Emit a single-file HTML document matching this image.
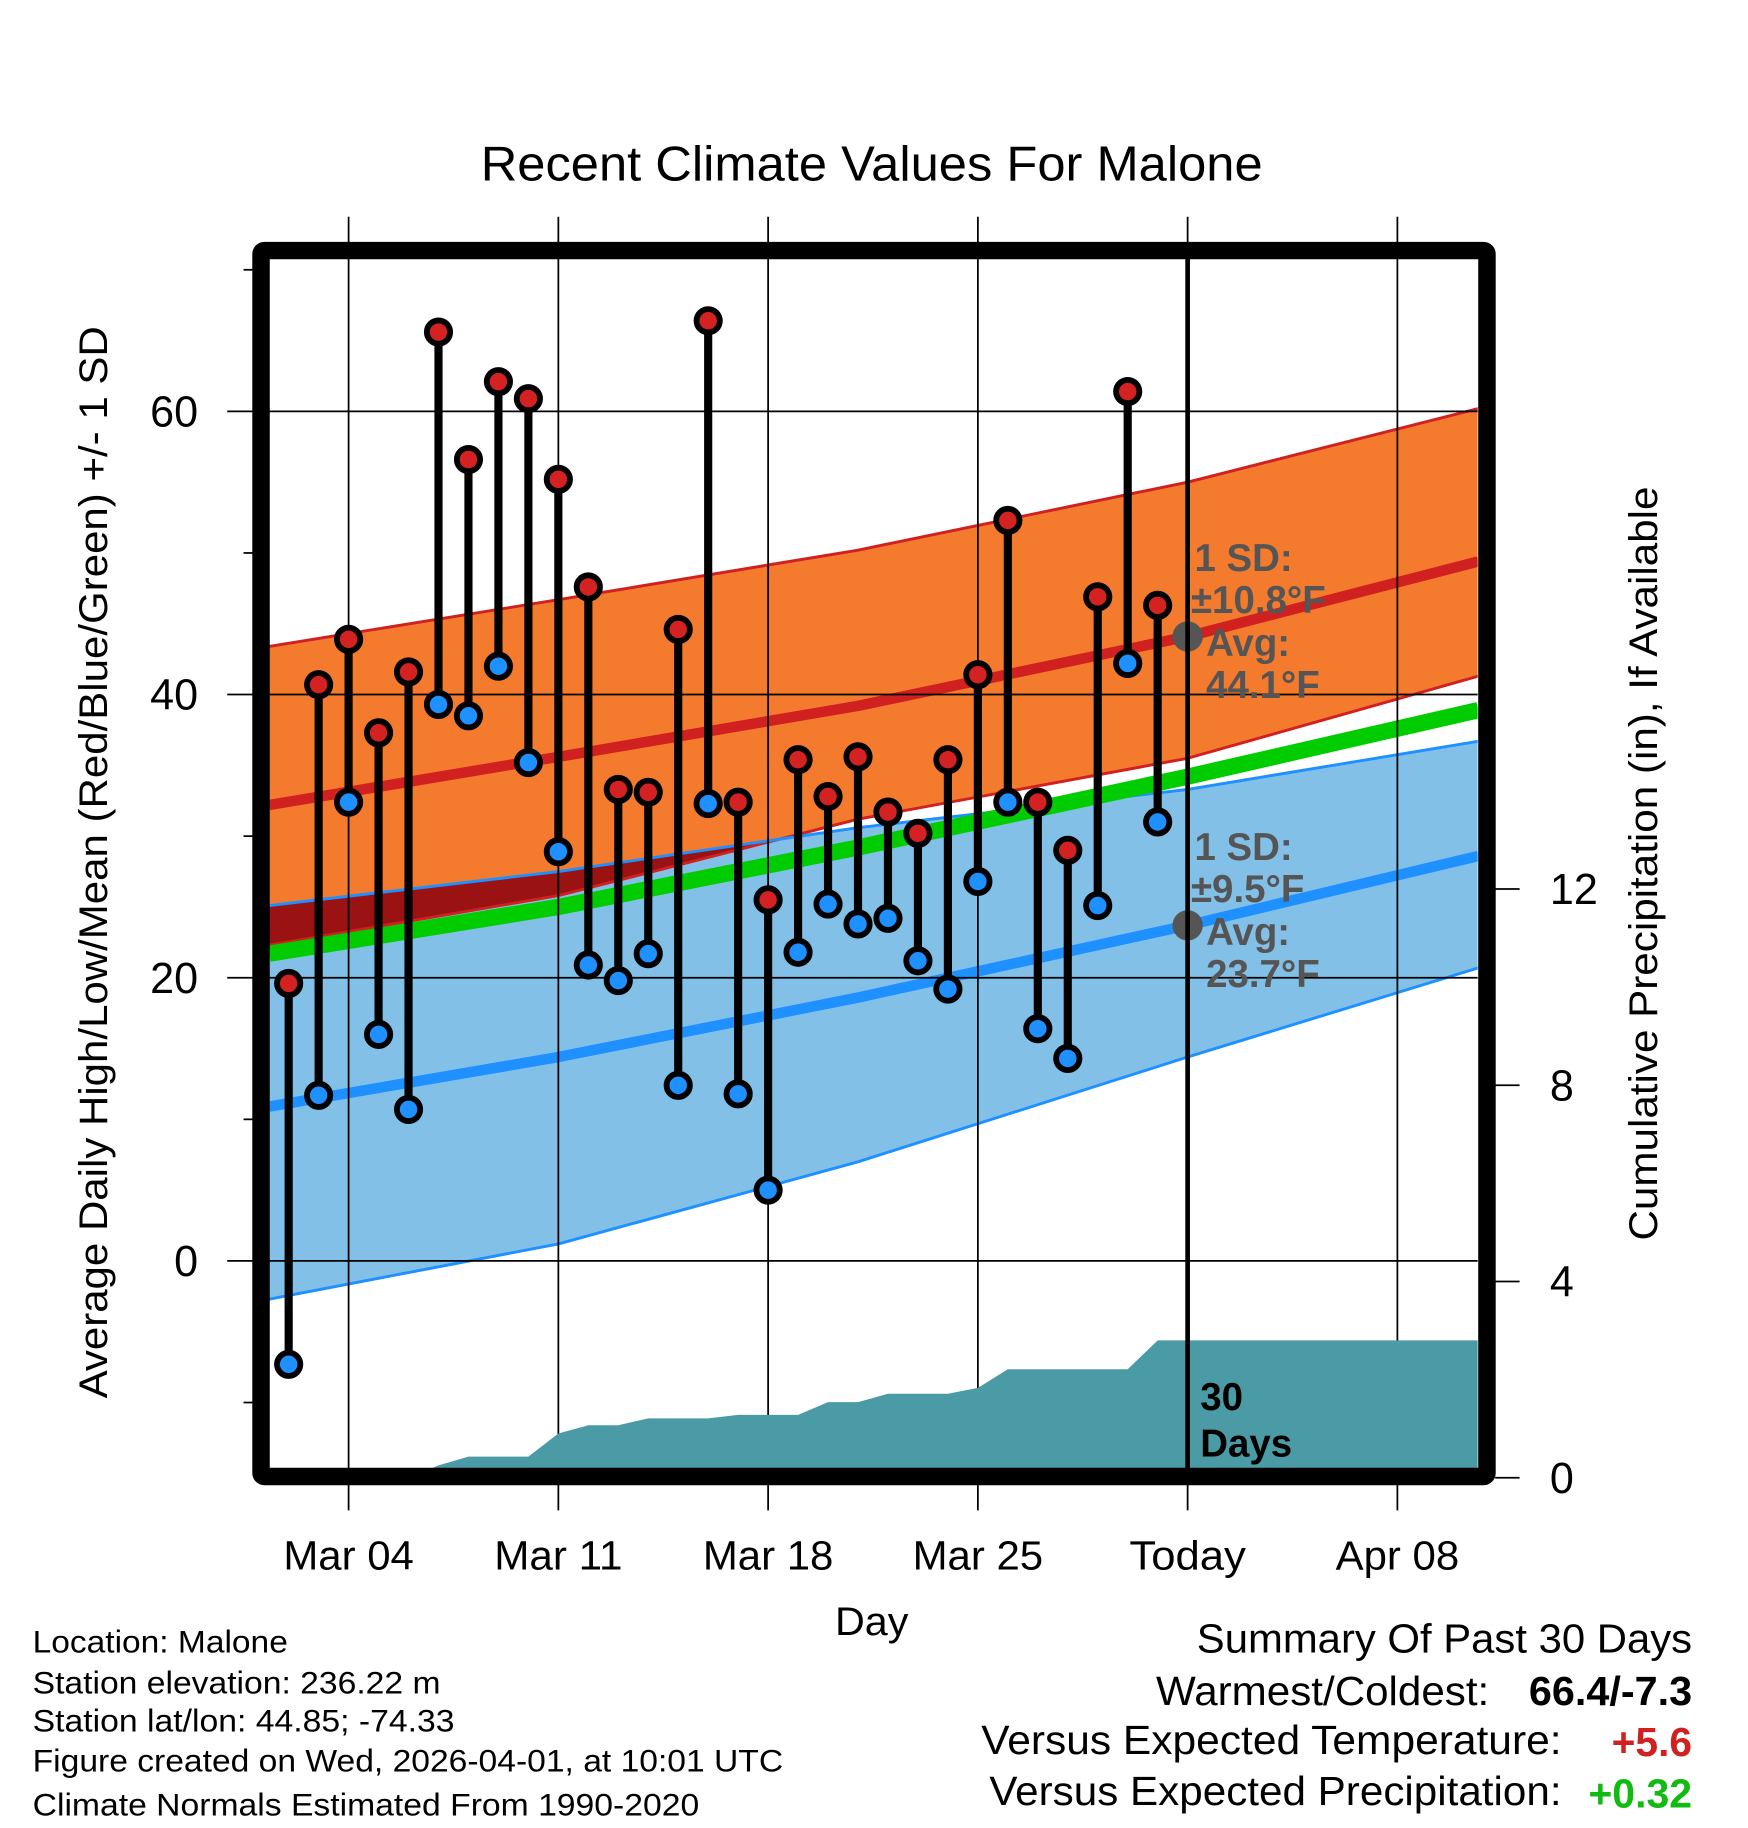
<!DOCTYPE html>
<html><head><meta charset="utf-8"><style>
html,body{margin:0;padding:0;background:#fff;}
svg{display:block;font-family:"Liberation Sans",Arial,sans-serif;}
</style></head><body>
<svg id="chart" width="1748" height="1828" viewBox="0 0 1500 1568.6" preserveAspectRatio="none" xmlns="http://www.w3.org/2000/svg">
<defs><clipPath id="plotclip"><rect x="231" y="222" width="1037" height="1038"/></clipPath></defs>
<text x="748" y="155" font-size="42" text-anchor="middle" textLength="671" lengthAdjust="spacingAndGlyphs">Recent Climate Values For Malone</text>
<g id="grid"></g>
<g id="plot" clip-path="url(#plotclip)"></g>
<g id="marks"></g>
<g id="axes"></g>
<text transform="translate(92,740) rotate(-90)" font-size="34" text-anchor="middle" textLength="920" lengthAdjust="spacingAndGlyphs">Average Daily High/Low/Mean (Red/Blue/Green) +/- 1 SD</text>
<text transform="translate(1422,741) rotate(-90)" font-size="34" text-anchor="middle" textLength="647" lengthAdjust="spacingAndGlyphs">Cumulative Precipitation (in), If Available</text>
<text x="748" y="1403" font-size="34" text-anchor="middle" textLength="63" lengthAdjust="spacingAndGlyphs">Day</text>
<g font-size="27">
<text x="28" y="1418" textLength="219" lengthAdjust="spacingAndGlyphs">Location: Malone</text>
<text x="28" y="1453" textLength="350" lengthAdjust="spacingAndGlyphs">Station elevation: 236.22 m</text>
<text x="28" y="1486" textLength="362" lengthAdjust="spacingAndGlyphs">Station lat/lon: 44.85; -74.33</text>
<text x="28" y="1520" textLength="644" lengthAdjust="spacingAndGlyphs">Figure created on Wed, 2026-04-01, at 10:01 UTC</text>
<text x="28" y="1558" textLength="572" lengthAdjust="spacingAndGlyphs">Climate Normals Estimated From 1990-2020</text>
</g>
<g font-size="35">
<text x="1452" y="1418" text-anchor="end" textLength="425" lengthAdjust="spacingAndGlyphs">Summary Of Past 30 Days</text>
<text x="1278" y="1463" text-anchor="end" textLength="286" lengthAdjust="spacingAndGlyphs">Warmest/Coldest:</text>
<text x="1452" y="1463" text-anchor="end" font-weight="bold" textLength="140" lengthAdjust="spacingAndGlyphs">66.4/-7.3</text>
<text x="1340" y="1505" text-anchor="end" textLength="498" lengthAdjust="spacingAndGlyphs">Versus Expected Temperature:</text>
<text x="1452" y="1507" text-anchor="end" font-weight="bold" fill="#d02020" textLength="69" lengthAdjust="spacingAndGlyphs">+5.6</text>
<text x="1340" y="1549" text-anchor="end" textLength="491" lengthAdjust="spacingAndGlyphs">Versus Expected Precipitation:</text>
<text x="1452" y="1551" text-anchor="end" font-weight="bold" fill="#11bb11" textLength="89" lengthAdjust="spacingAndGlyphs">+0.32</text>
</g>
</svg>
<script>
const days = [1,2,3,4,5,6,7,8,9,10,11,12,13,14,15,16,17,18,19,20,21,22,23,24,25,26,27,28,29,30];
const highs = [19.6,40.7,43.9,37.3,41.6,65.6,56.6,62.1,60.9,55.2,47.6,33.3,33.1,44.6,66.4,32.4,25.5,35.4,32.8,35.6,31.7,30.2,35.4,41.4,52.3,32.4,29.0,46.9,61.4,46.3];
const lows = [-7.3,11.7,32.4,16.0,10.7,39.3,38.5,42.0,35.2,28.9,20.9,19.8,21.7,12.4,32.3,11.8,5.0,21.8,25.2,23.8,24.2,21.2,19.2,26.8,32.4,16.4,14.3,25.1,42.2,31.0];
const precip = [0,0,0,0,0,0.25,0.43,0.43,0.43,0.9,1.07,1.07,1.21,1.21,1.21,1.28,1.28,1.28,1.54,1.54,1.71,1.71,1.71,1.83,2.21,2.21,2.21,2.21,2.21,2.80];
const normDays = [0.35,10,20,31,40.7];
const highMean = [32.2,35.6,39.2,44.1,49.4];
const highUpper = [43.4,46.7,50.2,55.0,60.2];
const highLower = [22.3,25.8,31.2,35.5,41.3];
const lowMean = [10.9,14.4,18.6,23.7,28.6];
const lowUpper = [25.1,27.5,30.6,33.3,36.7];
const lowLower = [-2.7,1.2,7.0,14.4,20.7];
const meanLine = [21.7,25.0,29.2,34.2,38.9];
const xTickDays = [3,10,17,24,31,38];
const xTickLabels = ["Mar 04","Mar 11","Mar 18","Mar 25","Today","Apr 08"];
const yTicks = [0,20,40,60];
const yMinor = [-10,10,30,50,70];
const pTicks = [0,4,8,12];

const NS="http://www.w3.org/2000/svg";
const X = d => 222 + 25.714*d;
const Y = t => 1082 - 12.15*t;
const P = p => 1268 - 42.1*p;
const XMIN=0.35, XMAX=40.7;
const xLabelW=[112,110,112,112,100,106];
function mk(tag, attrs, parent){const e=document.createElementNS(NS,tag);for(const k in attrs)e.setAttribute(k,attrs[k]);parent.appendChild(e);return e;}
const grid=document.getElementById('grid'), plot=document.getElementById('plot'), marks=document.getElementById('marks'), axes=document.getElementById('axes');
const pts = arr => normDays.map((d,i)=>X(d)+','+Y(arr[i]));
const band = (up,lo) => pts(up).concat(pts(lo).reverse()).join(' ');

let e;
e=mk('polygon',{points:band(highUpper,highLower),fill:'#f47a2e'},plot);


e=mk('polygon',{points:band(lowUpper,lowLower),fill:'#82c0e7'},plot);


const cp=mk('clipPath',{id:'lowclip'},document.querySelector('defs'));
mk('polygon',{points:band(lowUpper,lowLower)},cp);
e=mk('polygon',{points:band(highUpper,highLower),fill:'#9a1212','clip-path':'url(#lowclip)'},plot);


[[highUpper,'#d02020',2.5],[highLower,'#d02020',2.5],[lowUpper,'#1e90ff',2.5],[lowLower,'#1e90ff',2.5],[meanLine,'#00cc00',14],[highMean,'#d02020',9],[lowMean,'#1e90ff',9]].forEach((s,i)=>{
  e=mk('polyline',{points:pts(s[0]).join(' '),fill:'none',stroke:s[1],'stroke-width':s[2],'stroke-linejoin':'round'},plot);
  
  
});
xTickDays.forEach(d=>{
  e=mk('line',{x1:X(d),x2:X(d),y1:186,y2:1296,stroke:'#000','stroke-width':1.5},grid);
  
  
});
yTicks.forEach(t=>{
  e=mk('line',{x1:195,x2:1268,y1:Y(t),y2:Y(t),stroke:'#000','stroke-width':1.5},grid);
  
  
});
plot.parentNode.insertBefore(plot, grid);
const gridOver=mk('g',{'clip-path':'url(#plotclip)'},document.getElementById('chart'));


document.getElementById('chart').insertBefore(gridOver, marks);
[[546,44.1,'±10.8°F',490],[794,23.7,'±9.5°F',738]].forEach(a=>{
  const yy=a[3];
  const t1=mk('text',{x:1025,y:yy,'font-size':33,'font-weight':'bold',fill:'#555'},gridOver);t1.textContent='1 SD:';
  
  
  const t2=mk('text',{x:1022,y:yy+36,'font-size':33,'font-weight':'bold',fill:'#555'},gridOver);t2.textContent=a[2];
  
  
  const c=mk('circle',{cx:X(31),cy:Y(a[1]),r:13,fill:'#555'},gridOver);
  
  
  const t3=mk('text',{x:1035,y:yy+73,'font-size':33,'font-weight':'bold',fill:'#555'},gridOver);t3.textContent='Avg:';
  
  
  const t4=mk('text',{x:1035,y:yy+109,'font-size':33,'font-weight':'bold',fill:'#555'},gridOver);t4.textContent=a[1]+'°F';
  
  
});
let pp=[X(XMIN)+','+P(0)];
pp.push(X(days[0]-0.5)+','+P(0));
days.forEach((d,i)=>pp.push(X(d)+','+P(precip[i])));
pp.push(X(XMAX)+','+P(precip[precip.length-1]));
pp.push(X(XMAX)+','+P(0));
e=mk('polygon',{points:pp.join(' '),fill:'#4a9ba5'},gridOver);


e=mk('line',{x1:X(31),x2:X(31),y1:222,y2:1260,stroke:'#000','stroke-width':4},gridOver);


const td=mk('text',{x:1030,y:1210,'font-size':33,'font-weight':'bold'},gridOver);td.textContent='30';


const td2=mk('text',{x:1030,y:1250,'font-size':33,'font-weight':'bold'},gridOver);td2.textContent='Days';


days.forEach((d,i)=>{
  e=mk('line',{x1:X(d),x2:X(d),y1:Y(highs[i]),y2:Y(lows[i]),stroke:'#000','stroke-width':7},marks);
  
  
});
days.forEach((d,i)=>{
  e=mk('circle',{cx:X(d),cy:Y(highs[i]),r:10,fill:'#d42222',stroke:'#000','stroke-width':5},marks);
  
  
  e=mk('circle',{cx:X(d),cy:Y(lows[i]),r:10,fill:'#1e90ff',stroke:'#000','stroke-width':5},marks);
  
  
});
e=mk('rect',{x:224,y:215,width:1052,height:1052,fill:'none',stroke:'#000','stroke-width':15,rx:3},axes);


yTicks.forEach(t=>{
  const tx=mk('text',{x:170,y:Y(t)+13,'font-size':37,'text-anchor':'end'},axes);tx.textContent=t;
  
  
});
yMinor.forEach(t=>{
  e=mk('line',{x1:209,x2:217,y1:Y(t),y2:Y(t),stroke:'#000','stroke-width':1.5},axes);
  
  
});
pTicks.forEach(p=>{
  e=mk('line',{x1:1283,x2:1304,y1:P(p),y2:P(p),stroke:'#000','stroke-width':1.5},axes);
  
  
  const tx=mk('text',{x:1330,y:P(p)+13,'font-size':37},axes);tx.textContent=p;
  
  
});
xTickDays.forEach((d,i)=>{
  const tx=mk('text',{x:X(d),y:1347,'font-size':35,'text-anchor':'middle',textLength:xLabelW[i],lengthAdjust:'spacingAndGlyphs'},axes);tx.textContent=xTickLabels[i];
  
  
});
</script>
</body></html>
